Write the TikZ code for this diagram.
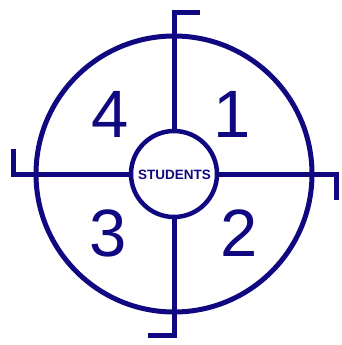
\documentclass[tikz,border=0pt]{standalone}
\usepackage{fontspec}
\setmainfont{Liberation Sans}
\definecolor{navy}{RGB}{16,8,128}
\begin{document}
\begin{tikzpicture}[x=1pt,y=-1pt,
  ln/.style={draw=navy,line width=5pt},
  digit/.style={text=navy,font=\fontsize{67}{67}\selectfont,inner sep=0pt},
  lbl/.style={text=navy,font=\bfseries\fontsize{13.5}{13.5}\selectfont,inner sep=0pt}]
\useasboundingbox (0,0) rectangle (341,345);
\coordinate (c) at (174,174);
\node[ln,circle,minimum size=276pt,inner sep=0pt] (big) at (c) {};
% axes with hooks
\coordinate (t1) at (200,13);
\coordinate (t2) at (174,13);
\coordinate (b1) at (174,335);
\coordinate (b2) at (148,335);
\coordinate (l1) at (13,149);
\coordinate (l2) at (13,174);
\coordinate (r1) at (336,174);
\coordinate (r2) at (336,200);
\node[circle,minimum size=86pt,inner sep=0pt] (inner) at (c) {};
\draw[ln,line cap=butt] (t1) -- (t2) -- (inner.north);
\draw[ln] (inner.south) -- (b1) -- (b2);
\draw[ln] (l1) -- (l2) -- (inner.west);
\draw[ln] (inner.east) -- (r1) -- (r2);
\node[ln,circle,minimum size=86pt,inner sep=0pt,fill=white,line width=4.5pt] (stud) at (c) {};
\node[lbl] (s) at (174.5,175) {STUDENTS};
\node[digit] (n4) at (110,114) {4};
\node[digit] (n1) at (232,114) {1};
\node[digit] (n3) at (108,233) {3};
\node[digit] (n2) at (239,233) {2};
\end{tikzpicture}
\end{document}
